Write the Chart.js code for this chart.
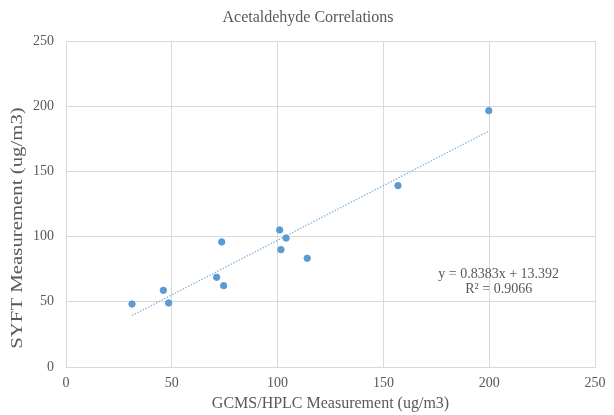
<!DOCTYPE html>
<html lang="en">

<head>
    <meta charset="UTF-8">
    <title>Acetaldehyde Correlations</title>
    <style>
        html,
        body {
            margin: 0;
            padding: 0;
            background: #fff;
        }

        #chart_div {
            display: block;
        }
    </style>
    <script src="https://cdn.jsdelivr.net/npm/chart.js"></script>
</head>

<body>
    <canvas id="chart_div" width="614" height="415"></canvas>

    <script>
        // GCMS/HPLC (x) vs SYFT (y), ug/m3
        const gcmsValues = [31.2, 46.0, 48.5, 71.2, 73.6, 74.5, 101.0, 101.6, 104.0, 114.0, 156.9, 199.8];
        const syftValues = [48.3, 58.8, 49.1, 68.8, 95.9, 62.4, 105.1, 90.0, 98.9, 83.4, 139.1, 196.6];

        // linear trendline end points (as drawn)
        const trendX = [31.2, 199.8];
        const trendY = [39.5, 180.9];

        const equationLines = ['y = 0.8383x + 13.392', 'R\u00B2 = 0.9066'];

        const xTicks = [0, 50, 100, 150, 200, 250];
        const yTicks = [0, 50, 100, 150, 200, 250];

        const chartTitle = 'Acetaldehyde Correlations';
        const yTitle = 'SYFT Measurement (ug/m3)';

        const serif = '"Liberation Serif", "Times New Roman", serif';
        const textColor = '#595959';
        const gridColor = '#d9d9d9';

        // title, y axis title and the trendline equation
        const labels = {
            id: 'labels',
            afterDatasetsDraw(chart) {
                const ctx = chart.ctx;
                ctx.save();
                ctx.fillStyle = textColor;
                ctx.textAlign = 'center';
                ctx.textBaseline = 'middle';

                ctx.font = '16px ' + serif;
                ctx.fillText(chartTitle, 308, 18);

                // the y title is stretched along its length in the original
                ctx.save();
                ctx.translate(18, 228);
                ctx.rotate(-Math.PI / 2);
                ctx.scale(1.3, 1);
                ctx.font = '16px ' + serif;
                ctx.fillText(yTitle, 0, 0);
                ctx.restore();

                const x = chart.scales.x.getPixelForValue(204.5);
                const y = chart.scales.y.getPixelForValue(71);
                ctx.font = '14px ' + serif;
                ctx.fillText(equationLines[0], x, y);
                ctx.fillText(equationLines[1], x, y + 15);
                ctx.restore();
            }
        };

        const ctx = document.getElementById('chart_div').getContext('2d');
        new Chart(ctx, {
            type: 'scatter',
            data: {
                datasets: [{
                    label: 'Acetaldehyde',
                    data: gcmsValues.map((v, i) => ({ x: v, y: syftValues[i] })),
                    backgroundColor: '#5b9bd5',
                    borderColor: '#5b9bd5',
                    pointRadius: 3.2,
                    pointHoverRadius: 3.2
                }, {
                    label: 'Linear',
                    type: 'line',
                    data: trendX.map((v, i) => ({ x: v, y: trendY[i] })),
                    borderColor: '#7fb0de',
                    borderWidth: 1.2,
                    borderDash: [1.5, 1.5],
                    pointRadius: 0,
                    fill: false
                }]
            },
            options: {
                responsive: false,
                animation: false,
                layout: {
                    padding: { top: 41, right: 19, bottom: 0, left: 0 }
                },
                plugins: {
                    legend: { display: false },
                    tooltip: { enabled: false },
                    title: { display: false }
                },
                scales: {
                    x: {
                        type: 'linear',
                        min: 0,
                        max: 250,
                        afterBuildTicks: axis => { axis.ticks = xTicks.map(v => ({ value: v })); },
                        afterFit: axis => { axis.height = 48; },
                        grid: { color: gridColor, drawTicks: false },
                        border: { color: gridColor },
                        ticks: {
                            color: textColor,
                            padding: 8,
                            font: { family: serif, size: 14 }
                        },
                        title: {
                            display: true,
                            text: 'GCMS/HPLC Measurement (ug/m3)',
                            color: textColor,
                            font: { family: serif, size: 16 },
                            padding: { top: 0, bottom: 2 }
                        }
                    },
                    y: {
                        type: 'linear',
                        min: 0,
                        max: 250,
                        afterBuildTicks: axis => { axis.ticks = yTicks.map(v => ({ value: v })); },
                        afterFit: axis => { axis.width = 66; },
                        grid: { color: gridColor, drawTicks: false },
                        border: { color: gridColor },
                        ticks: {
                            color: textColor,
                            padding: 12,
                            font: { family: serif, size: 14 }
                        }
                    }
                }
            },
            plugins: [labels]
        });
    </script>
</body>

</html>
